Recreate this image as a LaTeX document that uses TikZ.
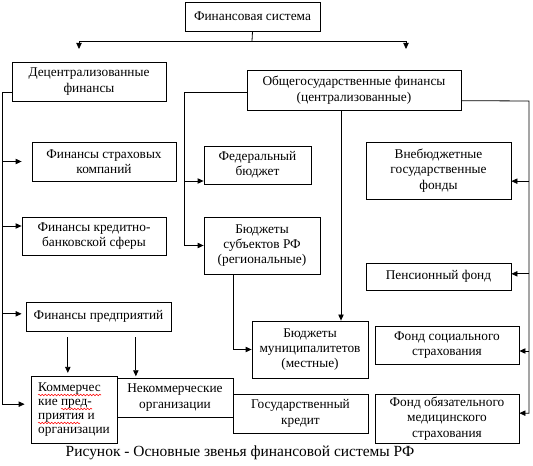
\documentclass[tikz,border=0pt]{standalone}
\usepackage{fontspec}
\setmainfont{Liberation Serif}
\usepackage{tikz}
\usetikzlibrary{arrows.meta, decorations.pathmorphing}
\tikzstyle{sheet} = [x = 0.75pt, y = -0.75pt, line width = 0.6pt]
\tikzstyle{unitBox} = [draw, fill=white, inner sep = 0pt, align=center, font=\fontsize{10}{11.5}\selectfont]
\tikzstyle{link} = [-{Triangle[length=4.5pt, width=4pt]}]
\tikzstyle{captionText} = [font=\fontsize{11.6}{14}\selectfont]
\tikzstyle{spellMark} = [red, line width=0.4pt, decorate, decoration={snake, amplitude=0.6pt, segment length=2.4pt}]
% box from its corners (px): name, x1, y1, x2, y2, text
\newcommand{\unitBox}[6]{\node [unitBox, minimum width = {(#4 - #2) * 0.75pt}, minimum height = {(#5 - #3) * 0.75pt}] (#1) at ({(#2 + #4) / 2}, {(#3 + #5) / 2}) {#6};}
\newcommand{\unitBoxLeft}[6]{\node [unitBox, align=left, font=\fontsize{10}{10.5}\selectfont, minimum width = {(#4 - #2) * 0.75pt}, minimum height = {(#5 - #3) * 0.75pt}] (#1) at ({(#2 + #4) / 2}, {(#3 + #5) / 2}) {#6};}
\begin{document}
\begin{tikzpicture}[sheet]
    \useasboundingbox (0,0) rectangle (533,466);
    % top level
    \unitBox{sys}{185}{2}{320}{31}{Финансовая система}
    \unitBox{dec}{12}{62}{166}{101}{Децентрализованные\\финансы}
    \unitBox{obsh}{247}{70}{461}{110}{Общегосударственные финансы\\(централизованные)}
    \coordinate (fork) at (252,41);
    \coordinate (decIn) at (79,49);
    \coordinate (obshIn) at (406,49);
    \draw (sys.south) -- (fork);
    \draw [link] (fork) -| (decIn);
    \draw [link] (fork) -| (obshIn);
    % decentralized finances
    \unitBox{ins}{32}{142}{176}{181}{Финансы страховых\\компаний}
    \unitBox{kred}{22}{217}{166}{255}{Финансы кредитно-\\банковской сферы}
    \unitBox{pred}{26}{302}{171}{331}{Финансы предприятий}
    \unitBoxLeft{komm}{31}{376}{117}{443}{Коммерчес\\кие пред-\\приятия и\\организации}
    \unitBox{nekomm}{117}{378}{233}{417}{Некоммерческие\\организации}
    \draw [spellMark] (38,395) -- (101,395);
    \draw [spellMark] (61,409) -- (92,409);
    \draw [spellMark] (38,423) -- (80,423);
    \coordinate (lTrunk) at (2,92);
    \draw [link, shorten >= 4.5pt] (dec.west |- lTrunk) -- (lTrunk) |- ([yshift=4pt]komm.west);
    \draw [link, shorten >= 7.5pt] (lTrunk |- ins.west) -- (ins.west);
    \draw [link] ([yshift=7.5pt]kred.west -| lTrunk) -- ([yshift=7.5pt]kred.west);
    \draw [link, shorten >= 3pt] ([yshift=2pt]pred.west -| lTrunk) -- ([yshift=2pt]pred.west);
    \draw [link, shorten <= 4.5pt, shorten >= 2pt] ([xshift=-23pt]pred.south) -- ([xshift=-23pt]pred.south |- komm.north);
    \draw [link, shorten <= 4.5pt, shorten >= 1pt] ([xshift=28pt]pred.south) -- ([xshift=28pt]pred.south |- nekomm.north);
    % budgets
    \unitBox{fed}{204}{146}{311}{184}{Федеральный\\бюджет}
    \unitBox{subj}{204}{217}{320}{274}{Бюджеты\\субъектов РФ\\(региональные)}
    \unitBox{mun}{252}{321}{368}{378}{Бюджеты\\муниципалитетов\\(местные)}
    \unitBox{gkredit}{233}{394}{368}{433}{Государственный\\кредит}
    \coordinate (cTrunk) at (184,92);
    \draw [link] (obsh.west |- cTrunk) -- (cTrunk) |- (subj.west);
    \draw [link] ([yshift=-12pt]fed.west -| cTrunk) -- ([yshift=-12pt]fed.west);
    \draw [link] ([xshift=-9.75pt]obsh.south) -- ([xshift=-9.75pt]obsh.south |- mun.north);
    \draw [link] ([xshift=-21.75pt]subj.south) |- (mun.west);
    % extra-budgetary funds
    \unitBox{vneb}{366}{142}{511}{199}{Внебюджетные\\государственные\\фонды}
    \unitBox{pens}{366}{263}{511}{290}{Пенсионный фонд}
    \unitBox{soc}{375}{326}{519}{364}{Фонд социального\\страхования}
    \unitBox{oms}{375}{394}{519}{443}{Фонд обязательного\\медицинского\\страхования}
    \coordinate (rTrunk) at (529,101);
    \draw [link] ([yshift=-8pt]obsh.east) -- (rTrunk) |- ([yshift=4pt]oms.east);
    \draw [link] ([yshift=-8pt]vneb.east -| rTrunk) -- ([yshift=-8pt]vneb.east);
    \draw [link] ([yshift=2pt]pens.east -| rTrunk) -- ([yshift=2pt]pens.east);
    \draw [link] ([yshift=-4.5pt]soc.east -| rTrunk) -- ([yshift=-4.5pt]soc.east);
    % caption
    \node [captionText] (caption) at (240,453) {Рисунок - Основные звенья финансовой системы РФ};
\end{tikzpicture}
\end{document}
